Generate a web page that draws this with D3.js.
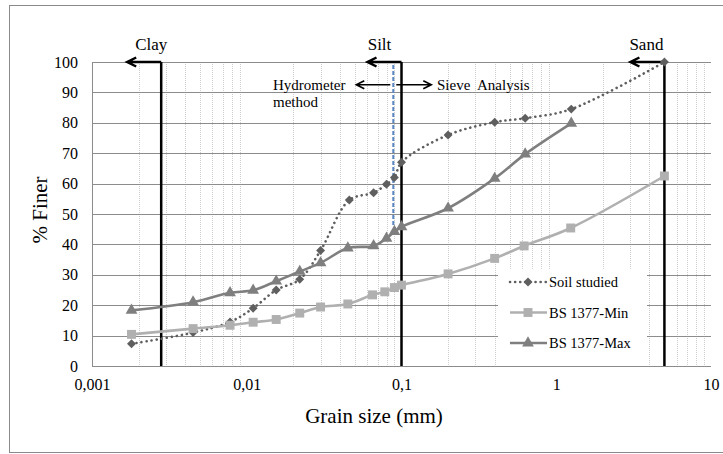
<!DOCTYPE html>
<html>
<head>
<meta charset="utf-8">
<script src="https://cdn.jsdelivr.net/npm/d3@7"></script>
<style>
	body { margin: 0; background: #fff; }
	text { font-family: "Liberation Serif", "Times New Roman", serif; fill: #000; }
</style>
</head>
<body>
<div id="chart"></div>
<script>
// grain sizes (mm) and % finer
var soilSize = [0.0018, 0.0045, 0.0078, 0.011, 0.0155, 0.022, 0.030, 0.046, 0.066, 0.080, 0.090, 0.100, 0.2, 0.4, 0.63, 1.25, 5];
var soilFiner = [7.3, 11, 14.5, 19, 25, 28.5, 38, 54.6, 57, 59.8, 62, 67, 76, 80.2, 81.5, 84.5, 100];

var minSize = [0.0018, 0.0045, 0.0078, 0.011, 0.0155, 0.022, 0.030, 0.045, 0.065, 0.078, 0.090, 0.100, 0.2, 0.4, 0.62, 1.24, 5];
var minFiner = [10.4, 12.3, 13.4, 14.4, 15.3, 17.4, 19.4, 20.4, 23.4, 24.4, 25.8, 26.6, 30.3, 35.4, 39.5, 45.4, 62.5];

var maxSize = [0.0018, 0.0045, 0.0078, 0.011, 0.0155, 0.022, 0.030, 0.045, 0.066, 0.080, 0.090, 0.100, 0.2, 0.4, 0.63, 1.25];
var maxFiner = [18.3, 21, 24.1, 24.9, 27.9, 31.1, 33.9, 38.8, 39.5, 42, 44.2, 45.8, 51.9, 61.7, 69.7, 79.8];

var seriesNames = ["Soil studied", "BS 1377-Min", "BS 1377-Max"];
var xTicks = [0.001, 0.01, 0.1, 1, 10];
var xTickLabels = ["0,001", "0,01", "0,1", "1", "10"];
var yTicks = [0, 10, 20, 30, 40, 50, 60, 70, 80, 90, 100];

var boundaryNames = ["Clay", "Silt", "Sand"];
var boundarySize = [0.0028, 0.1, 5];
var methodSplit = 0.0885; // hydrometer / sieve change
var methodSplitRange = [46, 99];

var width = 723, height = 454;
var plotL = 92, plotR = 711, plotT = 62, plotB = 366;

var svg = d3.select("#chart").append("svg")
	.attr("width", width).attr("height", height);

// outer frame (cut off by the picture on the right and bottom)
svg.append("rect")
	.attr("x", 9.5).attr("y", 5.5).attr("width", 800).attr("height", 447)
	.attr("fill", "none").attr("stroke", "#8a8a8a").attr("stroke-width", 1);

var x = d3.scaleLog().domain([0.001, 10]).range([plotL, plotR]);
var y = d3.scaleLinear().domain([0, 100]).range([plotB, plotT]);

// minor vertical gridlines
var minor = [];
for (var e = -3; e < 1; e++) {
	for (var k = 2; k <= 9; k++) minor.push(k * Math.pow(10, e));
}
svg.append("g").selectAll("line").data(minor).enter().append("line")
	.attr("x1", d => Math.round(x(d)) + 0.5).attr("x2", d => Math.round(x(d)) + 0.5)
	.attr("y1", plotT).attr("y2", plotB)
	.attr("stroke", "#cdcdcd").attr("stroke-width", 1)
	.attr("stroke-dasharray", "1,1");

// horizontal gridlines
svg.append("g").selectAll("line").data(yTicks).enter().append("line")
	.attr("x1", plotL).attr("x2", plotR)
	.attr("y1", d => Math.round(y(d)) + 0.5).attr("y2", d => Math.round(y(d)) + 0.5)
	.attr("stroke", "#8c8c8c").attr("stroke-width", 1);

// y axis line
svg.append("line")
	.attr("x1", plotL + 0.5).attr("x2", plotL + 0.5).attr("y1", plotT).attr("y2", plotB)
	.attr("stroke", "#8c8c8c");

// axes via d3, then restyle
var yAxis = d3.axisLeft(y).tickValues(yTicks).tickSize(0).tickPadding(14);
svg.append("g").attr("transform", "translate(" + plotL + ",0)").call(yAxis)
	.call(g => g.select(".domain").remove())
	.selectAll("text").style("font-size", "16px").style("font-family", "Liberation Serif");

var xAxis = d3.axisBottom(x).tickValues(xTicks).tickSize(0).tickPadding(13)
	.tickFormat((d, i) => xTickLabels[i]);
svg.append("g").attr("transform", "translate(0," + plotB + ")").call(xAxis)
	.call(g => g.select(".domain").remove())
	.selectAll("text").style("font-size", "16px").style("font-family", "Liberation Serif");

// axis titles
svg.append("text")
	.attr("transform", "translate(47," + ((plotT + plotB) / 2 - 4) + ") rotate(-90)")
	.attr("text-anchor", "middle").style("font-size", "21px")
	.text("% Finer");
svg.append("text")
	.attr("x", 374).attr("y", 423)
	.attr("text-anchor", "middle").style("font-size", "21px")
	.text("Grain size (mm)");

// legend box
svg.append("rect")
	.attr("x", 498).attr("y", 270).attr("width", 149).attr("height", 95)
	.attr("fill", "#fff");

// soil class boundaries with arrows
var labelShift = [8, -4, 0];
boundarySize.forEach(function(b, i) {
	var bx = x(b);
	svg.append("line")
		.attr("x1", bx).attr("x2", bx).attr("y1", y(100)).attr("y2", y(0))
		.attr("stroke", "#000").attr("stroke-width", 2.5);
	var tip = bx - 34;
	svg.append("path")
		.attr("d", "M" + bx + "," + y(100) + "H" + (tip + 1) +
			"M" + (tip + 9) + "," + (y(100) - 4.5) + "L" + tip + "," + y(100) + "L" + (tip + 9) + "," + (y(100) + 4.5))
		.attr("fill", "none").attr("stroke", "#000").attr("stroke-width", 2.5)
		.attr("stroke-linejoin", "miter");
	svg.append("text")
		.attr("x", bx - 18 + labelShift[i]).attr("y", 50)
		.attr("text-anchor", "middle").style("font-size", "17px")
		.text(boundaryNames[i]);
});

// hydrometer / sieve split
var sx = x(methodSplit);
svg.append("line")
	.attr("x1", sx).attr("x2", sx)
	.attr("y1", y(methodSplitRange[1])).attr("y2", y(methodSplitRange[0]))
	.attr("stroke", "#5b87c0").attr("stroke-width", 2)
	.attr("stroke-dasharray", "4,2");
var ay = y(92.5);
svg.append("path")
	.attr("d", "M" + (sx - 3) + "," + ay + "H" + (sx - 37) +
		"M" + (sx - 29) + "," + (ay - 4) + "L" + (sx - 37) + "," + ay + "L" + (sx - 29) + "," + (ay + 4) +
		"M" + (sx + 3) + "," + ay + "H" + (sx + 38) +
		"M" + (sx + 30) + "," + (ay - 4) + "L" + (sx + 38) + "," + ay + "L" + (sx + 30) + "," + (ay + 4))
	.attr("fill", "none").attr("stroke", "#000").attr("stroke-width", 1.6);
svg.append("text").attr("x", 273).attr("y", 90).style("font-size", "15px").text("Hydrometer");
svg.append("text").attr("x", 273).attr("y", 107).style("font-size", "15px").text("method");
svg.append("text").attr("x", 437).attr("y", 90).style("font-size", "15px")
	.style("white-space", "pre").text("Sieve  Analysis");

// series
var series = [
	{ name: seriesNames[0], size: soilSize, finer: soilFiner, color: "#5f5f5f", marker: "diamond", dotted: true },
	{ name: seriesNames[1], size: minSize, finer: minFiner, color: "#b0b0b0", marker: "square", dotted: false },
	{ name: seriesNames[2], size: maxSize, finer: maxFiner, color: "#7f7f7f", marker: "triangle", dotted: false }
];

var line = d3.line()
	.x(d => x(d[0])).y(d => y(d[1]))
	.curve(d3.curveCatmullRom.alpha(0.5));

var symbolOf = {
	diamond: d3.symbol().type(d3.symbolSquare).size(40),
	square: d3.symbol().type(d3.symbolSquare).size(80),
	triangle: d3.symbol().type(d3.symbolTriangle).size(60)
};
var markerRot = { diamond: 45, square: 0, triangle: 0 };

function styleLine(sel, s) {
	sel.attr("fill", "none").attr("stroke", s.color).attr("stroke-width", 2.6);
	if (s.dotted) sel.attr("stroke-dasharray", "0.1,5").attr("stroke-linecap", "round");
}

series.forEach(function(s) {
	var pts = s.size.map((d, i) => [d, s.finer[i]]);
	svg.append("path").datum(pts).attr("d", line).call(styleLine, s);
	svg.append("g").selectAll("path").data(pts).enter().append("path")
		.attr("transform", d => "translate(" + x(d[0]) + "," + y(d[1]) + ") rotate(" + markerRot[s.marker] + ")")
		.attr("d", symbolOf[s.marker])
		.attr("fill", s.color);
});

// legend entries
series.forEach(function(s, i) {
	var ly = 282 + i * 30.5;
	svg.append("path").attr("d", "M510," + ly + "H547").call(styleLine, s);
	svg.append("path").attr("transform", "translate(528," + ly + ") rotate(" + markerRot[s.marker] + ")")
		.attr("d", symbolOf[s.marker]).attr("fill", s.color);
	svg.append("text").attr("x", 549).attr("y", ly + 5)
		.style("font-size", "14.5px").text(s.name);
});
</script>
</body>
</html>
